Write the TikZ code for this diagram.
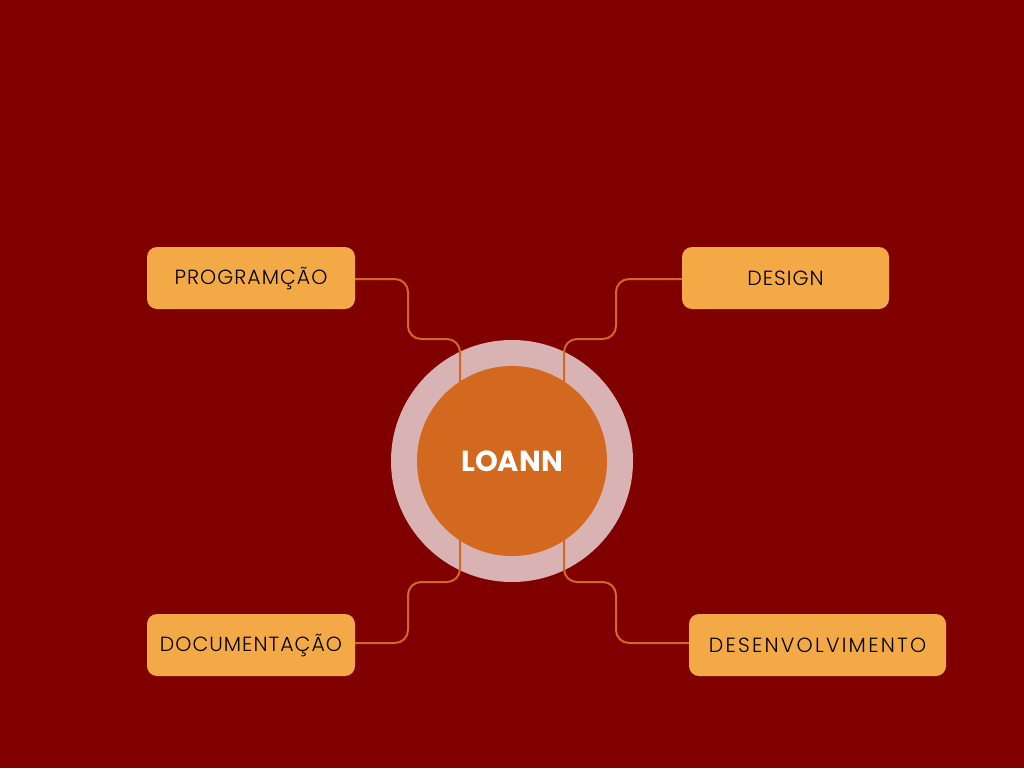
\documentclass[tikz,border=0pt]{standalone}
\usepackage{fontspec}
\newfontfamily\popfont{Poppins Light}[LetterSpace=5]
\newfontfamily\popwide{Poppins Light}[LetterSpace=11]
\newfontfamily\popbold{Poppins}[UprightFont=* Bold]
\definecolor{bgred}{HTML}{800000}
\definecolor{ringpink}{HTML}{D9B3B3}
\definecolor{corechoc}{HTML}{D2691E}
\definecolor{boxsand}{HTML}{F4A947}
\tikzset{
  topic/.style={draw=none, fill=boxsand, rounded corners=10pt, minimum height=62pt,
    inner sep=0pt, font=\popfont\fontsize{20.5}{24}\selectfont, text=black},
  link/.style={draw=corechoc, line width=2pt, rounded corners=13pt},
}
\begin{document}
\begin{tikzpicture}[x=1pt,y=-1pt]
  \useasboundingbox (0,0) rectangle (1024,768);
  \fill[bgred] (0,0) rectangle (1024,768);

  % central hub
  \node[circle, fill=ringpink, minimum size=242pt, inner sep=0pt] (ring) at (512,461) {};

  % topic boxes
  \node[topic, minimum width=208pt] (prog) at (251,278) {PROGRAMÇÃO};
  \node[topic, minimum width=207pt] (design) at (785.5,278) {DESIGN};
  \node[topic, minimum width=208pt] (doc) at (251,645) {DOCUMENTAÇÃO};
  \node[topic, minimum width=257pt, font=\popwide\fontsize{20.5}{24}\selectfont] (dev) at (817.5,645) {DESENVOLVIMENTO};

  % connectors
  \coordinate (pe) at (460,390);
  \coordinate (de) at (564,390);
  \coordinate (ce) at (460,532);
  \coordinate (ve) at (564,532);
  \draw[link] (prog.east |- 0,279) -- (408,279) -- (408,339) -- (460,339) -- (pe);
  \draw[link] (design.west |- 0,279) -- (616,279) -- (616,339) -- (564,339) -- (de);
  \draw[link] (doc.east |- 0,643) -- (408,643) -- (408,582) -- (460,582) -- (ce);
  \draw[link] (dev.west |- 0,643) -- (616,643) -- (616,582) -- (564,582) -- (ve);

  \node[circle, fill=corechoc, minimum size=190pt, inner sep=0pt,
    font=\popbold\fontsize{29}{34}\selectfont, text=white] (core) at (512,461) {LOANN};
\end{tikzpicture}
\end{document}
